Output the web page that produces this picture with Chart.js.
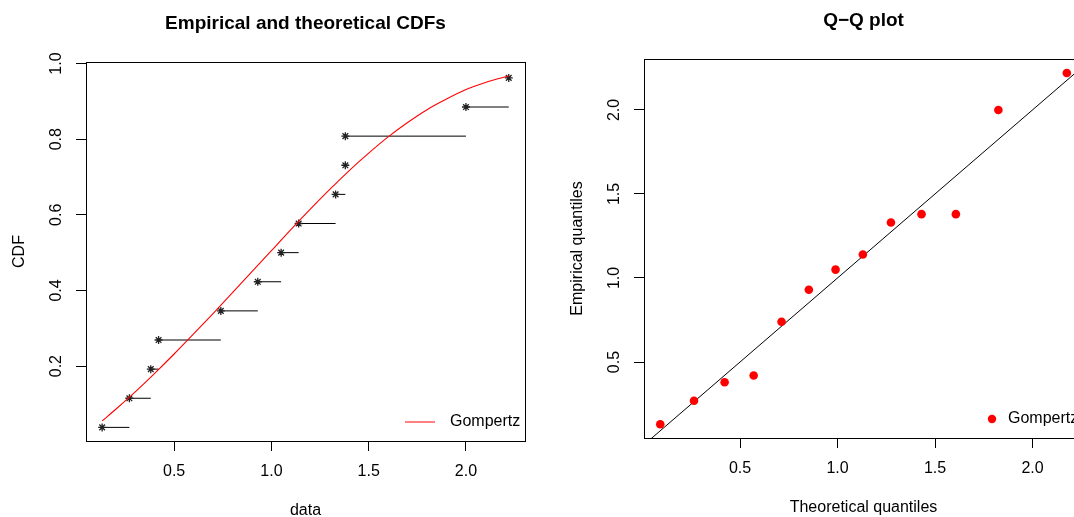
<!DOCTYPE html>
<html>
<head>
<meta charset="utf-8">
<script src="https://cdn.jsdelivr.net/npm/chart.js@4.4.0/dist/chart.umd.min.js"></script>
<style>
html, body { margin: 0; padding: 0; background: #fff; overflow: hidden; }
#wrap { position: relative; width: 1116px; height: 517px; }
#cdfChart { position: absolute; left: 0; top: 0; }
#qqChart { position: absolute; left: 558px; top: 0; }
</style>
</head>
<body>
<div id="wrap">
<canvas id="cdfChart" width="558" height="517"></canvas>
<canvas id="qqChart" width="558" height="517"></canvas>
</div>
<script>
// Datos observados (ordenados) y probabilidades empíricas
const obsData = [0.13, 0.27, 0.38, 0.42, 0.74, 0.93, 1.05, 1.14, 1.33, 1.38, 1.38, 2.00, 2.22];
const ecdfProb = [0.038, 0.115, 0.192, 0.269, 0.346, 0.423, 0.500, 0.577, 0.654, 0.731, 0.808, 0.885, 0.962];

// Curva teórica Gompertz
const curveX = [0.13, 0.2, 0.3, 0.4, 0.5, 0.6, 0.7, 0.8, 0.9, 1.0, 1.1, 1.2, 1.3, 1.4, 1.5, 1.6, 1.7, 1.8, 1.9, 2.0, 2.1, 2.22];
const curveY = [0.055, 0.086, 0.132, 0.181, 0.232, 0.285, 0.339, 0.394, 0.450, 0.505, 0.561, 0.615, 0.667, 0.717, 0.763, 0.806, 0.844, 0.878, 0.906, 0.931, 0.950, 0.967];

// Cuantiles teóricos para el Q-Q plot
const theoQuant = [0.091, 0.264, 0.421, 0.570, 0.713, 0.853, 0.990, 1.130, 1.274, 1.431, 1.607, 1.825, 2.176];
const refLine = [-1, 3];

// Ticks
const cdfXTicks = [0.5, 1.0, 1.5, 2.0];
const cdfYTicks = [0.2, 0.4, 0.6, 0.8, 1.0];
const qqXTicks = [0.5, 1.0, 1.5, 2.0];
const qqYTicks = [0.5, 1.0, 1.5, 2.0];

const distName = 'Gompertz';

Chart.defaults.font.family = '"Liberation Sans", Arial, Helvetica, sans-serif';
Chart.defaults.color = '#000';

const FONT = '"Liberation Sans", Arial, Helvetica, sans-serif';

function rAxis(min, max, ticks, horizontal, boxSize) {
    const axis = {
        type: 'linear',
        min: min,
        max: max,
        afterBuildTicks: s => { s.ticks = ticks.map(v => ({ value: v })); },
        grid: { drawOnChartArea: false, drawTicks: true, tickLength: 10, color: '#000', lineWidth: 1 },
        border: { display: true, color: '#000', width: 1 },
        ticks: { color: '#000', font: { size: 16 }, callback: v => Number(v).toFixed(1) }
    };
    if (horizontal) {
        axis.ticks.padding = 11;
        axis.ticks.maxRotation = 0;
        axis.afterFit = s => { s.height = boxSize; };
    } else {
        axis.ticks.padding = 8;
        axis.ticks.minRotation = 90;
        axis.ticks.maxRotation = 90;
        axis.ticks.crossAlign = 'center';
        axis.afterFit = s => { s.width = boxSize; };
    }
    return axis;
}

// Marco, títulos y leyenda al estilo de R
function rDecor(opts) {
    return {
        id: 'rDecor',
        afterDraw(chart) {
            const ctx = chart.ctx;
            const a = chart.chartArea;
            ctx.save();
            ctx.strokeStyle = '#000';
            ctx.lineWidth = 1;
            ctx.strokeRect(a.left + 0.5, a.top + 0.5, a.right - a.left, a.bottom - a.top);

            ctx.fillStyle = '#000';
            ctx.textAlign = 'center';
            ctx.textBaseline = 'alphabetic';
            ctx.font = 'bold 19px ' + FONT;
            ctx.fillText(opts.title, (a.left + a.right) / 2, a.top - 33);

            ctx.font = '16px ' + FONT;
            ctx.fillText(opts.xlab, (a.left + a.right) / 2, a.bottom + 74);

            ctx.save();
            ctx.translate(a.left - 62, (a.top + a.bottom) / 2);
            ctx.rotate(-Math.PI / 2);
            ctx.fillText(opts.ylab, 0, 0);
            ctx.restore();

            // Leyenda
            const ly = a.bottom - 19;
            if (opts.legend === 'line') {
                ctx.strokeStyle = '#ff0000';
                ctx.beginPath();
                ctx.moveTo(405, ly);
                ctx.lineTo(435, ly);
                ctx.stroke();
            } else {
                ctx.fillStyle = '#ff0000';
                ctx.beginPath();
                ctx.arc(434, ly, 4.2, 0, Math.PI * 2);
                ctx.fill();
            }
            ctx.fillStyle = '#000';
            ctx.textAlign = 'left';
            ctx.textBaseline = 'middle';
            ctx.font = '16px ' + FONT;
            ctx.fillText(distName, 450, ly);
            ctx.restore();
        }
    };
}

// Segmentos horizontales de la ECDF
const ecdfSegments = [];
for (let i = 0; i < obsData.length - 1; i++) {
    ecdfSegments.push({ x: obsData[i], y: ecdfProb[i] });
    ecdfSegments.push({ x: obsData[i + 1], y: ecdfProb[i] });
    ecdfSegments.push({ x: obsData[i + 1], y: null });
}

const cdfChart = new Chart(document.getElementById('cdfChart'), {
    type: 'line',
    data: {
        datasets: [
            {
                label: distName,
                data: curveX.map((x, i) => ({ x: x, y: curveY[i] })),
                borderColor: '#ff0000',
                borderWidth: 1.1,
                pointRadius: 0,
                cubicInterpolationMode: 'monotone'
            },
            {
                label: 'ecdf points',
                data: obsData.map((x, i) => ({ x: x, y: ecdfProb[i] })),
                showLine: false,
                pointStyle: 'star',
                pointRadius: 4,
                pointBorderColor: '#222',
                pointBorderWidth: 1.3
            },
            {
                label: 'ecdf',
                data: ecdfSegments,
                borderColor: '#000',
                borderWidth: 1,
                pointRadius: 0,
                spanGaps: false
            }
        ]
    },
    options: {
        responsive: false,
        animation: false,
        devicePixelRatio: 1,
        layout: { padding: { top: 62, right: 33, left: 0, bottom: 0 } },
        scales: {
            x: rAxis(0.047, 2.3035, cdfXTicks, true, 76),
            y: rAxis(0.002, 1.004, cdfYTicks, false, 86)
        },
        plugins: { legend: { display: false }, tooltip: { enabled: false } }
    },
    plugins: [rDecor({ title: 'Empirical and theoretical CDFs', xlab: 'data', ylab: 'CDF', legend: 'line' })]
});

const qqChart = new Chart(document.getElementById('qqChart'), {
    type: 'line',
    data: {
        datasets: [
            {
                label: distName,
                data: theoQuant.map((q, i) => ({ x: q, y: obsData[i] })),
                showLine: false,
                pointStyle: 'circle',
                pointRadius: 4.3,
                pointBackgroundColor: '#ff0000',
                pointBorderColor: '#ff0000',
                pointBorderWidth: 0
            },
            {
                label: 'y = x',
                data: refLine.map(v => ({ x: v, y: v })),
                borderColor: '#000',
                borderWidth: 1,
                pointRadius: 0
            }
        ]
    },
    options: {
        responsive: false,
        animation: false,
        devicePixelRatio: 1,
        layout: { padding: { top: 59, right: 33, left: 0, bottom: 0 } },
        scales: {
            x: rAxis(0.0076, 2.259, qqXTicks, true, 79),
            y: rAxis(0.048, 2.303, qqYTicks, false, 86)
        },
        plugins: { legend: { display: false }, tooltip: { enabled: false } }
    },
    plugins: [rDecor({ title: 'Q\u2212Q plot', xlab: 'Theoretical quantiles', ylab: 'Empirical quantiles', legend: 'point' })]
});
</script>
</body>
</html>
